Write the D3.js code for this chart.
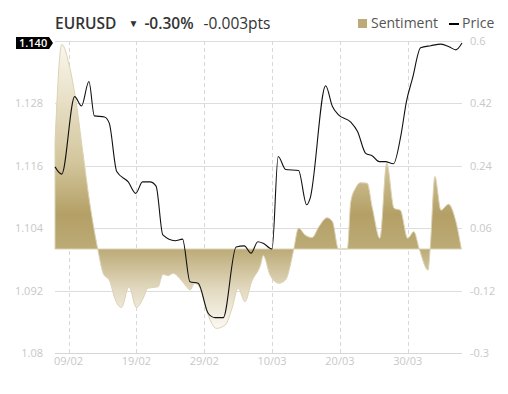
<!DOCTYPE html>
<html>
<head>
<meta charset="utf-8">
<script src="https://cdn.jsdelivr.net/npm/d3@7"></script>
<style>
  body { margin: 0; background: #fff; }
  svg { font-family: "Open Sans", sans-serif; }
</style>
</head>
<body>
<div id="chart"></div>
<script>
// days counted from 07/02
const startDate = new Date(2024, 1, 7);

const priceDays = [0, 1.0, 2.9, 3.9, 5.0, 5.8, 7.3, 8.0, 9.1, 10.8, 11.9, 12.9, 14.0, 14.9, 15.9, 17.7, 18.8, 19.9, 21.1, 22.6, 23.6, 24.8, 26.7, 27.9, 28.9, 29.9, 30.7, 32.0, 32.9, 34.0, 35.9, 37.1, 37.6, 39.9, 40.9, 41.8, 43.6, 44.6, 45.8, 46.8, 47.8, 48.7, 49.9, 51.0, 51.8, 52.7, 53.9, 55.4, 56.9, 58.1, 59.1, 60.0];
const priceValues = [1.1158, 1.1144, 1.1293, 1.1275, 1.1322, 1.1256, 1.1254, 1.1242, 1.1149, 1.1129, 1.1107, 1.1129, 1.1129, 1.1121, 1.1027, 1.1016, 1.1019, 1.0937, 1.0934, 1.0876, 1.0868, 1.0868, 1.1004, 1.1006, 1.0992, 1.1014, 1.1011, 1.1000, 1.1178, 1.1153, 1.1151, 1.1085, 1.1097, 1.1314, 1.1274, 1.1258, 1.1244, 1.1226, 1.1184, 1.1179, 1.1168, 1.1168, 1.1164, 1.1219, 1.1283, 1.1328, 1.1387, 1.1391, 1.1394, 1.1389, 1.1383, 1.1396];

const sentDays = [0, 1.0, 2.1, 3.1, 4.1, 5.1, 6.3, 7.1, 8.1, 8.8, 9.8, 10.9, 12.0, 13.0, 13.7, 15.2, 15.9, 16.7, 17.4, 18.4, 19.2, 19.9, 20.6, 21.4, 22.4, 23.8, 25.1, 26.1, 27.0, 28.0, 29.0, 30.3, 30.7, 31.7, 33.0, 34.0, 34.7, 35.2, 35.9, 36.9, 37.9, 38.9, 40.1, 40.9, 41.8, 43.1, 43.6, 44.3, 45.0, 46.0, 46.8, 47.9, 48.9, 50.0, 50.9, 52.0, 52.9, 53.7, 55.0, 55.3, 56.0, 56.9, 58.0, 59.1, 59.9];
const sentValues = [0.305, 0.59, 0.53, 0.425, 0.28, 0.136, 0, -0.07, -0.094, -0.142, -0.169, -0.109, -0.169, -0.142, -0.113, -0.109, -0.073, -0.077, -0.07, -0.085, -0.104, -0.118, -0.099, -0.113, -0.181, -0.229, -0.219, -0.171, -0.113, -0.152, -0.094, -0.046, -0.019, -0.075, -0.099, -0.089, -0.046, 0, 0.06, 0.04, 0.033, 0.064, 0.09, 0.079, 0, 0, 0.136, 0.175, 0.191, 0.19, 0.117, 0.031, 0.247, 0.117, 0.112, 0.031, 0.05, 0, -0.061, 0, 0.209, 0.112, 0.129, 0.079, 0];

const priceTicks = [1.08, 1.092, 1.104, 1.116, 1.128, 1.14];
// the top label is replaced by the last-price marker
const priceTickLabels = ["1.08", "1.092", "1.104", "1.116", "1.128", ""];
const sentTicks = [-0.3, -0.12, 0.06, 0.24, 0.42, 0.6];
const sentTickLabels = ["-0.3", "-0.12", "0.06", "0.24", "0.42", "0.6"];
const dateTicks = ["2024-02-09", "2024-02-19", "2024-02-29", "2024-03-10", "2024-03-20", "2024-03-30"];

const W = 508, H = 394;
const plot = { left: 55, right: 462, top: 41, bottom: 353 };

const toDate = d => new Date(startDate.getTime() + d * 86400000);
const parseDay = d3.timeParse("%Y-%m-%d");
const fmtDay = d3.timeFormat("%d/%m");

const x = d3.scaleTime()
  .domain([startDate, toDate(60)])
  .range([plot.left, plot.right]);
const yP = d3.scaleLinear().domain([1.08, 1.14]).range([plot.bottom, plot.top]);
const yS = d3.scaleLinear().domain([-0.3, 0.6]).range([plot.bottom, plot.top]);

const svg = d3.select("#chart").append("svg")
  .attr("width", W)
  .attr("height", H);

// gradient for sentiment area
const grad = svg.append("defs").append("linearGradient")
  .attr("id", "sentGrad")
  .attr("gradientUnits", "userSpaceOnUse")
  .attr("x1", 0).attr("x2", 0)
  .attr("y1", plot.top).attr("y2", 330);
[[0, "#fbf8ef"], [0.42, "#d3c69c"], [0.6, "#b4a066"], [0.72, "#bcab77"], [0.86, "#e2d9c0"], [1, "#fcfaf5"]]
  .forEach(s => grad.append("stop").attr("offset", s[0]).attr("stop-color", s[1]));

// horizontal grid
svg.append("g").selectAll("line")
  .data(priceTicks)
  .enter().append("line")
    .attr("x1", plot.left).attr("x2", plot.right)
    .attr("y1", d => Math.round(yP(d)) + 0.5).attr("y2", d => Math.round(yP(d)) + 0.5)
    .attr("stroke", "#dddddd");

// vertical dashed grid
svg.append("g").selectAll("line")
  .data(dateTicks)
  .enter().append("line")
    .attr("x1", d => Math.round(x(parseDay(d))) + 0.5)
    .attr("x2", d => Math.round(x(parseDay(d))) + 0.5)
    .attr("y1", plot.top).attr("y2", plot.bottom)
    .attr("stroke", "#d8d8d8")
    .attr("stroke-dasharray", "4,3");

// sentiment area
const sentData = sentDays.map((d, i) => ({ t: toDate(d), v: sentValues[i] }));
svg.append("path")
  .datum(sentData)
  .attr("fill", "url(#sentGrad)")
  .attr("stroke", "#dcd2b3")
  .attr("stroke-width", 1)
  .attr("d", d3.area()
    .curve(d3.curveMonotoneX)
    .x(d => x(d.t))
    .y0(yS(0))
    .y1(d => yS(d.v)));

// price line
const priceData = priceDays.map((d, i) => ({ t: toDate(d), v: priceValues[i] }));
svg.append("path")
  .datum(priceData)
  .attr("fill", "none")
  .attr("stroke", "#111")
  .attr("stroke-width", 1.1)
  .attr("d", d3.line()
    .curve(d3.curveMonotoneX)
    .x(d => x(d.t))
    .y(d => yP(d.v)));

// bottom axis line
svg.append("line")
  .attr("x1", plot.left).attr("x2", plot.right)
  .attr("y1", plot.bottom + 0.5).attr("y2", plot.bottom + 0.5)
  .attr("stroke", "#d6d6d6");

// axis labels
const labelColor = "#c8c8c8";
svg.append("g").selectAll("text")
  .data(priceTicks.filter((d, i) => priceTickLabels[i]))
  .enter().append("text")
    .attr("x", 43)
    .attr("y", d => yP(d))
    .attr("dy", "0.36em")
    .attr("text-anchor", "end")
    .attr("font-size", "11px")
    .attr("fill", labelColor)
    .text((d, i) => priceTickLabels[i]);

svg.append("g").selectAll("text")
  .data(sentTicks)
  .enter().append("text")
    .attr("x", 470)
    .attr("y", d => yS(d))
    .attr("dy", "0.36em")
    .attr("font-size", "11px")
    .attr("fill", labelColor)
    .text((d, i) => sentTickLabels[i]);

svg.append("g").selectAll("text")
  .data(dateTicks)
  .enter().append("text")
    .attr("x", d => x(parseDay(d)))
    .attr("y", 365)
    .attr("text-anchor", "middle")
    .attr("font-size", "11px")
    .attr("fill", labelColor)
    .text(d => fmtDay(parseDay(d)));

// last price marker
const last = priceValues[priceValues.length - 1];
const my = yP(last);
svg.append("path")
  .attr("d", `M16,${my - 6}H49L53,${my}L49,${my + 6}H16Z`)
  .attr("fill", "#000");
svg.append("text")
  .attr("x", 19).attr("y", my)
  .attr("dy", "0.36em")
  .attr("font-size", "11px")
  .attr("font-weight", 600)
  .attr("fill", "#fff")
  .text(d3.format(".3f")(last));

// header
const head = svg.append("text")
  .attr("x", 55).attr("y", 29)
  .attr("font-size", "15.5px")
  .attr("fill", "#333");
head.append("tspan").attr("font-weight", 600).text("EURUSD");
head.append("tspan").attr("dx", 12).attr("font-size", "10px").attr("dy", -2).text("▼");
head.append("tspan").attr("dx", 6).attr("dy", 2).attr("font-weight", 600).text("-0.30%");
head.append("tspan").attr("dx", 10).text("-0.003pts");

// legend
svg.append("rect")
  .attr("x", 358).attr("y", 19)
  .attr("width", 9).attr("height", 9)
  .attr("fill", "#bcab78");
svg.append("text")
  .attr("x", 371).attr("y", 28)
  .attr("font-size", "14px")
  .attr("fill", "#555")
  .text("Sentiment");
svg.append("line")
  .attr("x1", 449).attr("x2", 459)
  .attr("y1", 24).attr("y2", 24)
  .attr("stroke", "#000")
  .attr("stroke-width", 2);
svg.append("text")
  .attr("x", 462).attr("y", 28)
  .attr("font-size", "14px")
  .attr("fill", "#555")
  .text("Price");
</script>
</body>
</html>
